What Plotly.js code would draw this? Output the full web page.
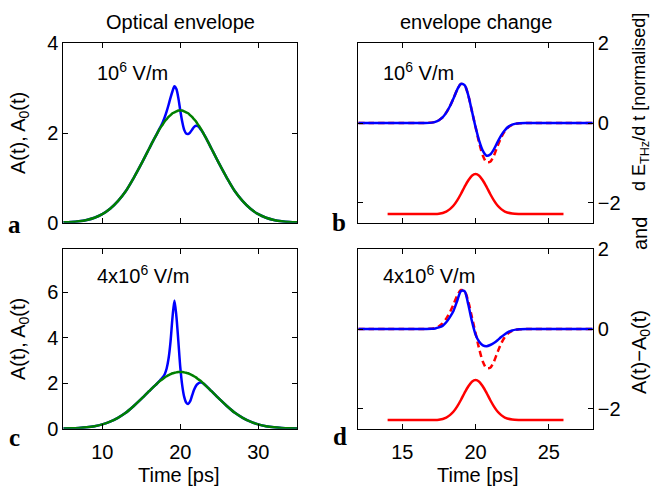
<!DOCTYPE html>
<html>
<head>
<meta charset="utf-8">
<script src="https://cdn.plot.ly/plotly-3.0.1.min.js"></script>
<style>html,body{margin:0;padding:0;background:#fff;}#chart{width:655px;height:486px;}</style>
</head>
<body>
<div id="chart"></div>
<script>
// ---- Left column: time grid (ps) ----
const tLeft = [5,6,7,8,9,10,11,12,13,14,15,16,16.5,
  17,17.25,17.5,17.75,18,18.25,18.5,18.75,19,19.25,19.5,19.75,20,20.25,20.5,20.75,21,21.25,21.5,21.75,22,22.25,22.5,22.75,23,
  23.5,24,25,26,27,28,29,30,31,32,33,34,35];

// A0(t): unperturbed optical envelope (green)
const A0 = [0.008,0.016,0.032,0.061,0.11,0.19,0.31,0.48,0.70,0.99,1.31,1.65,1.82,
  1.98,2.06,2.13,2.19,2.26,2.31,2.36,2.40,2.44,2.46,2.48,2.50,2.50,2.50,2.48,2.46,2.44,2.40,2.36,2.31,2.26,2.19,2.13,2.06,1.98,
  1.82,1.65,1.31,0.99,0.70,0.48,0.31,0.19,0.11,0.061,0.032,0.016,0.008];

// A(t) for 10^6 V/m (blue, panel a)
const A_1e6 = [0.008,0.016,0.032,0.061,0.11,0.19,0.31,0.48,0.70,0.99,1.31,1.65,1.82,
  1.98,2.07,2.15,2.24,2.35,2.48,2.63,2.79,2.93,3.04,2.98,2.78,2.50,2.25,2.07,1.99,1.98,2.01,2.07,2.13,2.16,2.15,2.11,2.05,1.98,
  1.82,1.65,1.31,0.99,0.70,0.48,0.31,0.19,0.11,0.061,0.032,0.016,0.008];

// A(t) for 4x10^6 V/m (blue, panel c)
const A_4e6 = [0.008,0.016,0.032,0.061,0.11,0.19,0.31,0.48,0.70,0.99,1.31,1.65,1.82,
  1.98,2.07,2.17,2.27,2.40,2.65,3.10,3.85,4.90,5.65,4.95,3.85,2.70,1.90,1.40,1.15,1.09,1.20,1.45,1.70,1.88,1.98,2.03,2.03,1.98,
  1.82,1.65,1.31,0.99,0.70,0.48,0.31,0.19,0.11,0.061,0.032,0.016,0.008];

// ---- Right column: time grid (ps) ----
const tRight = [12,13,14,15,16,16.5,
  17,17.25,17.5,17.75,18,18.25,18.5,18.75,19,19.25,19.5,19.75,20,20.25,20.5,20.75,21,21.25,21.5,21.75,22,22.25,22.5,22.75,23,
  23.5,24,25,26,27,28];

// normalised A(t)-A0(t), 10^6 V/m (blue, panel b)
const dA_1e6 = [0,0,0,0,0,0.002,
  0.01,0.03,0.07,0.14,0.26,0.42,0.62,0.84,0.98,0.95,0.70,0.30,-0.10,-0.45,-0.70,-0.82,-0.79,-0.66,-0.48,-0.31,-0.18,-0.09,-0.04,-0.015,-0.005,
  -0.001,0,0,0,0,0];

// normalised A(t)-A0(t), 4x10^6 V/m (blue, panel d)
const dA_4e6 = [0,0,0,0,0,0.002,
  0.005,0.015,0.04,0.08,0.17,0.30,0.46,0.71,0.95,0.95,0.62,0.20,-0.14,-0.32,-0.41,-0.43,-0.40,-0.35,-0.28,-0.20,-0.13,-0.07,-0.035,-0.015,-0.005,
  0,0,0,0,0,0];

// normalised dE_THz/dt (red dashed, panels b and d)
const dEdt = [0,0,0,0,0,0.002,
  0.01,0.03,0.07,0.14,0.26,0.42,0.62,0.84,0.98,0.95,0.70,0.30,-0.10,-0.50,-0.82,-0.98,-0.97,-0.82,-0.58,-0.36,-0.20,-0.10,-0.045,-0.018,-0.006,
  -0.001,0,0,0,0,0];

// THz pulse shape, offset (red solid)
const tTHz = [14,15,16,17,17.5,18,18.25,18.5,18.75,19,19.25,19.5,19.75,20,20.25,20.5,20.75,21,21.25,21.5,21.75,22,22.5,23,24,25,26];
const ETHz = [-2.28,-2.28,-2.28,-2.28,-2.275,-2.22,-2.16,-2.07,-1.94,-1.78,-1.60,-1.44,-1.32,-1.28,-1.32,-1.44,-1.60,-1.78,-1.94,-2.07,-2.16,-2.22,-2.27,-2.28,-2.28,-2.28,-2.28];

// ticks
const xTicksLeft = [10,20,30];
const xTicksRight = [15,20,25];
const yTicksA = [0,2,4];
const yTicksC = [0,2,4,6];
const yTicksRight = [-2,0,2];

const BLUE = 'rgb(0,0,255)', GREEN = 'rgb(0,128,0)', RED = 'rgb(255,0,0)';
const LW = 2.5;
function line(x, y, xa, ya, color, dash) {
  return {x: x, y: y, xaxis: xa, yaxis: ya, type: 'scatter', mode: 'lines',
    line: {color: color, width: LW, dash: dash || 'solid', shape: 'spline', smoothing: 0.8},
    hoverinfo: 'skip'};
}
const traces = [
  line(tLeft, A_1e6, 'x', 'y', BLUE),
  line(tLeft, A0, 'x', 'y', GREEN),
  line(tTHz, ETHz, 'x2', 'y2', RED),
  line(tRight, dEdt, 'x2', 'y2', RED, '6px,4px'),
  line(tRight, dA_1e6, 'x2', 'y2', BLUE),
  line(tLeft, A_4e6, 'x3', 'y3', BLUE),
  line(tLeft, A0, 'x3', 'y3', GREEN),
  line(tTHz, ETHz, 'x4', 'y4', RED),
  line(tRight, dEdt, 'x4', 'y4', RED, '6px,4px'),
  line(tRight, dA_4e6, 'x4', 'y4', BLUE)
];

const FONT = 'Liberation Sans, Arial, Helvetica, sans-serif';
const FS = 20;
function ax(extra) {
  return Object.assign({
    showline: true, linecolor: '#000', linewidth: 1, mirror: 'ticks',
    ticks: 'inside', ticklen: 5, tickwidth: 1, tickcolor: '#000',
    showgrid: false, zeroline: false, automargin: false, fixedrange: true,
    tickfont: {family: FONT, size: FS, color: '#000'}
  }, extra);
}
const W = 655, H = 486;
const xL = [63.3 / W, 297.3 / W], xR = [358.3 / W, 592.8 / W];
const yT = [1 - 222.7 / H, 1 - 43.3 / H], yB = [1 - 428.7 / H, 1 - 249.3 / H];

function ann(text, px, py, opts) {
  return Object.assign({text: text, x: px / W, y: 1 - py / H, xref: 'paper', yref: 'paper',
    showarrow: false, xanchor: 'center', yanchor: 'middle',
    font: {family: FONT, size: FS, color: '#000'}}, opts || {});
}
const serif = {family: 'Liberation Serif, Times New Roman, serif', size: 25, color: '#000'};
const annotations = [
  ann('Optical envelope', 180.3, 21.5),
  ann('envelope change', 475.6, 21.5),
  ann('A(t), A<sub>0</sub>(t)', 19, 133, {textangle: -90}),
  ann('A(t), A<sub>0</sub>(t)', 19, 339, {textangle: -90}),
  ann('Time [ps]', 179, 475),
  ann('Time [ps]', 477.5, 475),
  ann('A(t)\u2212A<sub>0</sub>(t)', 640, 352, {textangle: -90}),
  ann('and', 640, 234, {textangle: -90}),
  ann('d E<sub>THz</sub>/d t [normalised]', 640, 102, {textangle: -90, font: {family: FONT, size: 18, color: '#000'}}),
  ann('10<sup>6</sup> V/m', 95, 71, {xanchor: 'left'}),
  ann('10<sup>6</sup> V/m', 381, 71, {xanchor: 'left'}),
  ann('4x10<sup>6</sup> V/m', 95, 274, {xanchor: 'left'}),
  ann('4x10<sup>6</sup> V/m', 381, 274, {xanchor: 'left'}),
  ann('<b>a</b>', 14, 224, {font: serif}),
  ann('<b>b</b>', 339, 223, {font: serif}),
  ann('<b>c</b>', 14, 437, {font: serif}),
  ann('<b>d</b>', 340, 436, {font: serif})
];

const layout = {
  width: W, height: H,
  margin: {l: 0, r: 0, t: 0, b: 0, pad: 0},
  paper_bgcolor: '#fff', plot_bgcolor: '#fff',
  showlegend: false,
  xaxis: ax({domain: xL, anchor: 'y', range: [5, 35], tickvals: xTicksLeft, showticklabels: false}),
  yaxis: ax({domain: yT, anchor: 'x', range: [0, 4], tickvals: yTicksA}),
  xaxis2: ax({domain: xR, anchor: 'y2', range: [12, 28], tickvals: xTicksRight, showticklabels: false}),
  yaxis2: ax({domain: yT, anchor: 'x2', side: 'right', range: [-2.5, 2], tickvals: yTicksRight}),
  xaxis3: ax({domain: xL, anchor: 'y3', range: [5, 35], tickvals: xTicksLeft, ticklabelstandoff: 5}),
  yaxis3: ax({domain: yB, anchor: 'x3', range: [0, 7.9], tickvals: yTicksC}),
  xaxis4: ax({domain: xR, anchor: 'y4', range: [12, 28], tickvals: xTicksRight, ticklabelstandoff: 5}),
  yaxis4: ax({domain: yB, anchor: 'x4', side: 'right', range: [-2.5, 2], tickvals: yTicksRight}),
  annotations: annotations
};
Plotly.newPlot('chart', traces, layout, {staticPlot: true, displayModeBar: false});
</script>
</body>
</html>
